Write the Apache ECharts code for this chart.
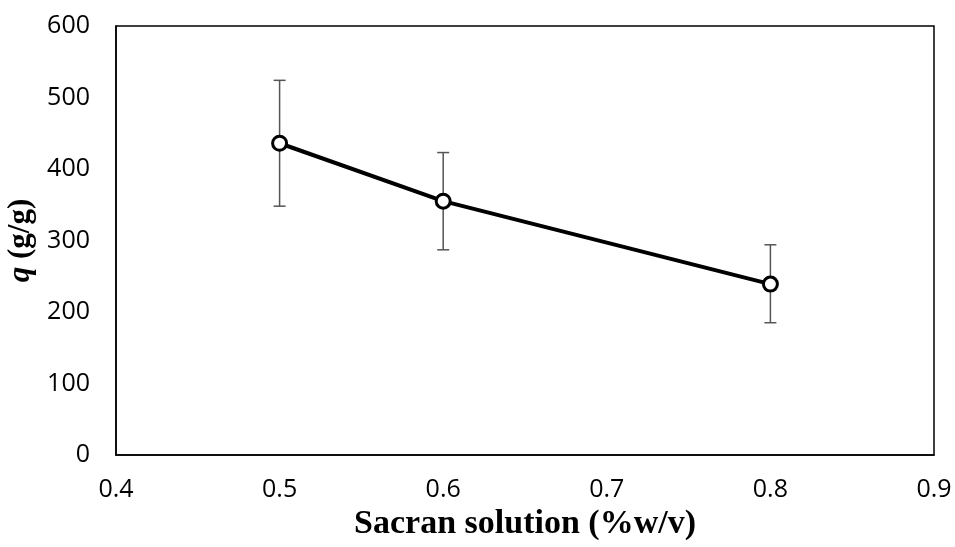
<!DOCTYPE html>
<html><head><meta charset="utf-8">
<script src="https://cdn.jsdelivr.net/npm/echarts@6/dist/echarts.min.js"></script>
<style>html,body{margin:0;padding:0;background:#fff}#c{width:955px;height:547px}</style>
</head><body><div id="c"></div>
<script>
var xValues = [0.5, 0.6, 0.8];
var qValues = [436, 355, 239];
var errLow = [348, 287, 185];
var errHigh = [524, 423, 294];
var xTicks = [0.4, 0.5, 0.6, 0.7, 0.8, 0.9];
var yTicks = [0, 100, 200, 300, 400, 500, 600];

var chart = echarts.init(document.getElementById('c'));
var lineData = xValues.map(function(x,i){return [x, qValues[i]];});
var errData = xValues.map(function(x,i){return [x, errLow[i], errHigh[i]];});
chart.setOption({
  animation:false,
  grid:{left:116, right:21, top:26, bottom:92, show:true, borderColor:'#000', borderWidth:1.5,
    containLabel:false, outerBoundsMode:'none'},
  xAxis:{type:'value', min:0.4, max:0.9, interval:0.1,
    axisLine:{show:true, onZero:false, lineStyle:{color:'#000', width:1.5}},
    axisTick:{show:false}, splitLine:{show:false},
    axisLabel:{margin:22, fontSize:25, color:'#000', fontFamily:'Open Sans',
      formatter:function(v){return v.toFixed(1);}},
    name:'Sacran solution (%w/v)', nameLocation:'middle', nameGap:37,
    nameTextStyle:{fontFamily:'Liberation Serif', fontWeight:'bold', fontSize:34, color:'#000'}
  },
  yAxis:{type:'value', min:0, max:600, interval:100,
    axisLine:{show:true, lineStyle:{color:'#000', width:1.5}},
    axisTick:{show:false}, splitLine:{show:false},
    axisLabel:{margin:26, fontSize:25, color:'#000', fontFamily:'Open Sans'},
    name:'{i|q}{b| (g/g)}', nameLocation:'middle', nameGap:72,
    nameTextStyle:{rich:{
      i:{fontFamily:'Liberation Serif', fontWeight:'bold', fontStyle:'italic', fontSize:31, color:'#000'},
      b:{fontFamily:'Liberation Serif', fontWeight:'bold', fontSize:31, color:'#000'}}}
  },
  series:[
    {type:'custom', data:errData, z:1,
      renderItem:function(params, api){
        var x = api.value(0);
        var lo = api.coord([x, api.value(1)]);
        var hi = api.coord([x, api.value(2)]);
        var w = 6;
        var st = {stroke:'#555', lineWidth:1.5};
        return {type:'group', children:[
          {type:'line', shape:{x1:lo[0],y1:lo[1],x2:hi[0],y2:hi[1]}, style:st},
          {type:'line', shape:{x1:lo[0]-w,y1:lo[1],x2:lo[0]+w,y2:lo[1]}, style:st},
          {type:'line', shape:{x1:hi[0]-w,y1:hi[1],x2:hi[0]+w,y2:hi[1]}, style:st}
        ]};
      }},
    {type:'line', data:lineData, z:3, symbol:'circle', symbolSize:14,
      lineStyle:{color:'#000', width:4},
      itemStyle:{color:'#fff', borderColor:'#000', borderWidth:3}}
  ]
});
</script></body></html>
